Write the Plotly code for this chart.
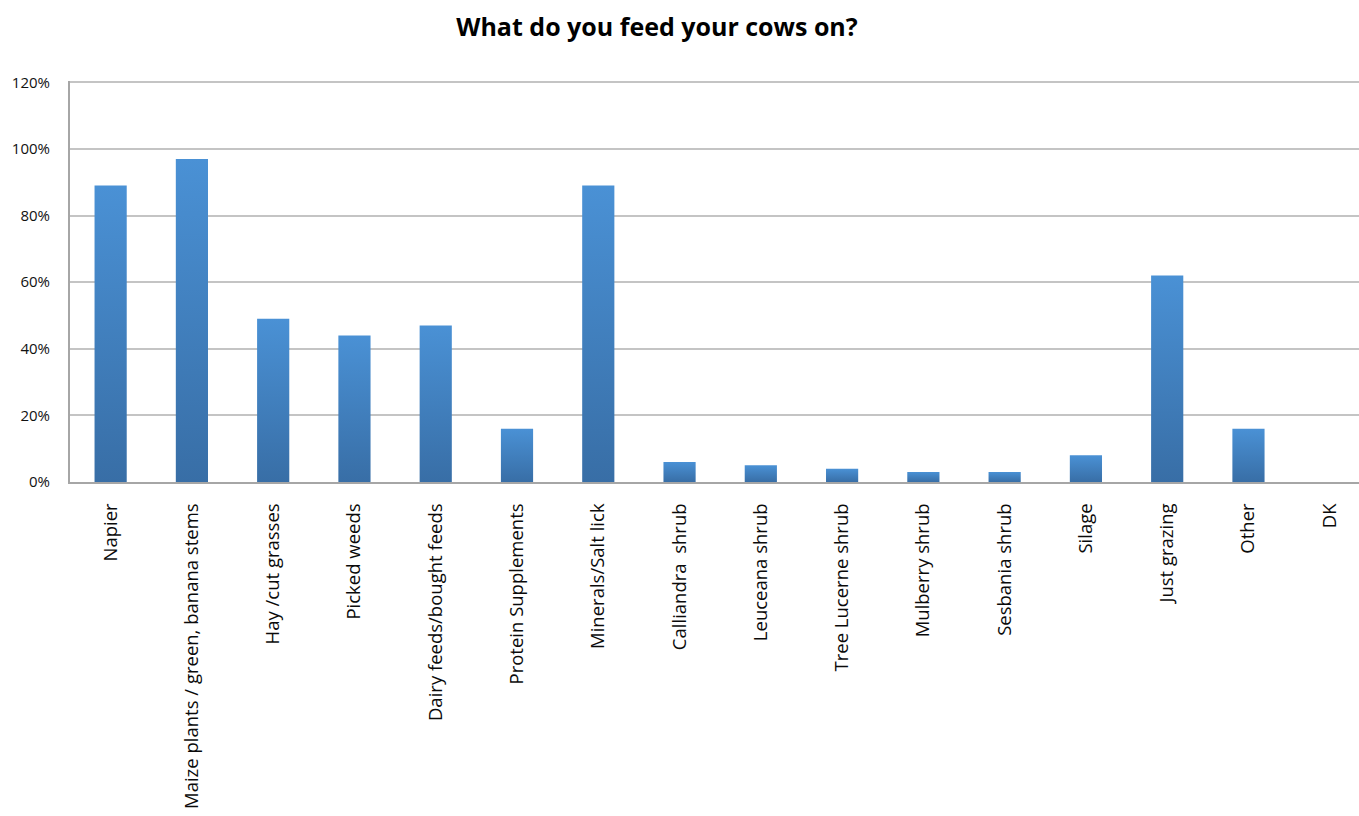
import plotly.graph_objects as go

# Survey responses: share of farmers using each feed
categories = [
    "Napier",
    "Maize plants / green, banana stems",
    "Hay /cut grasses",
    "Picked weeds",
    "Dairy feeds/bought feeds",
    "Protein Supplements",
    "Minerals/Salt lick",
    "Calliandra  shrub",
    "Leuceana shrub",
    "Tree Lucerne shrub",
    "Mulberry shrub",
    "Sesbania shrub",
    "Silage",
    "Just grazing",
    "Other",
    "DK",
]
shares = [0.89, 0.97, 0.49, 0.44, 0.47, 0.16, 0.89, 0.06, 0.05, 0.04, 0.03, 0.03, 0.08, 0.62, 0.16, 0.0]
y_ticks = [0, 0.2, 0.4, 0.6, 0.8, 1.0, 1.2]

half_w = 0.198
fig = go.Figure()

# Each bar is a filled rectangle with a vertical blue gradient (dark bottom, light top)
for i, v in enumerate(shares):
    if v <= 0:
        continue
    fig.add_trace(go.Scatter(
        x=[i - half_w, i - half_w, i + half_w, i + half_w, i - half_w],
        y=[0, v, v, 0, 0],
        mode="lines",
        line=dict(width=0, color="rgba(0,0,0,0)"),
        fill="toself",
        fillgradient=dict(type="vertical",
                          colorscale=[[0, "#386ea6"], [1, "#4a91d5"]]),
        hoverinfo="skip",
        showlegend=False,
    ))

fig.update_layout(
    width=1359,
    height=816,
    margin=dict(l=70, r=0, t=81, b=334),
    paper_bgcolor="white",
    plot_bgcolor="white",
    showlegend=False,
    title=dict(
        text="<b>What do you feed your cows on?</b>",
        x=657 / 1359, xanchor="center",
        y=1 - 27 / 816, yanchor="middle",
        font=dict(family="Open Sans", size=25, color="#000000"),
    ),
    font=dict(family="Open Sans", color="#111111"),
)

fig.update_xaxes(
    range=[-0.5, 15.36],
    tickmode="array",
    tickvals=list(range(len(categories))),
    ticktext=categories,
    tickangle=-90,
    tickfont=dict(family="Open Sans", size=18.5, color="#0a0a0a"),
    showgrid=False,
    zeroline=False,
    showline=True,
    linecolor="#a6a6a6",
    linewidth=2,
    ticks="",
    ticklabelstandoff=12,
)

fig.update_yaxes(
    range=[0, 1.204],
    tickmode="array",
    tickvals=y_ticks,
    tickformat=".0%",
    tickfont=dict(family="Open Sans", size=15, color="#111111"),
    showgrid=True,
    gridcolor="#c4c4c4",
    gridwidth=2,
    zeroline=False,
    showline=True,
    linecolor="#a6a6a6",
    linewidth=2,
    ticks="",
    ticklabelstandoff=15,
)

fig.write_html("out.html")
